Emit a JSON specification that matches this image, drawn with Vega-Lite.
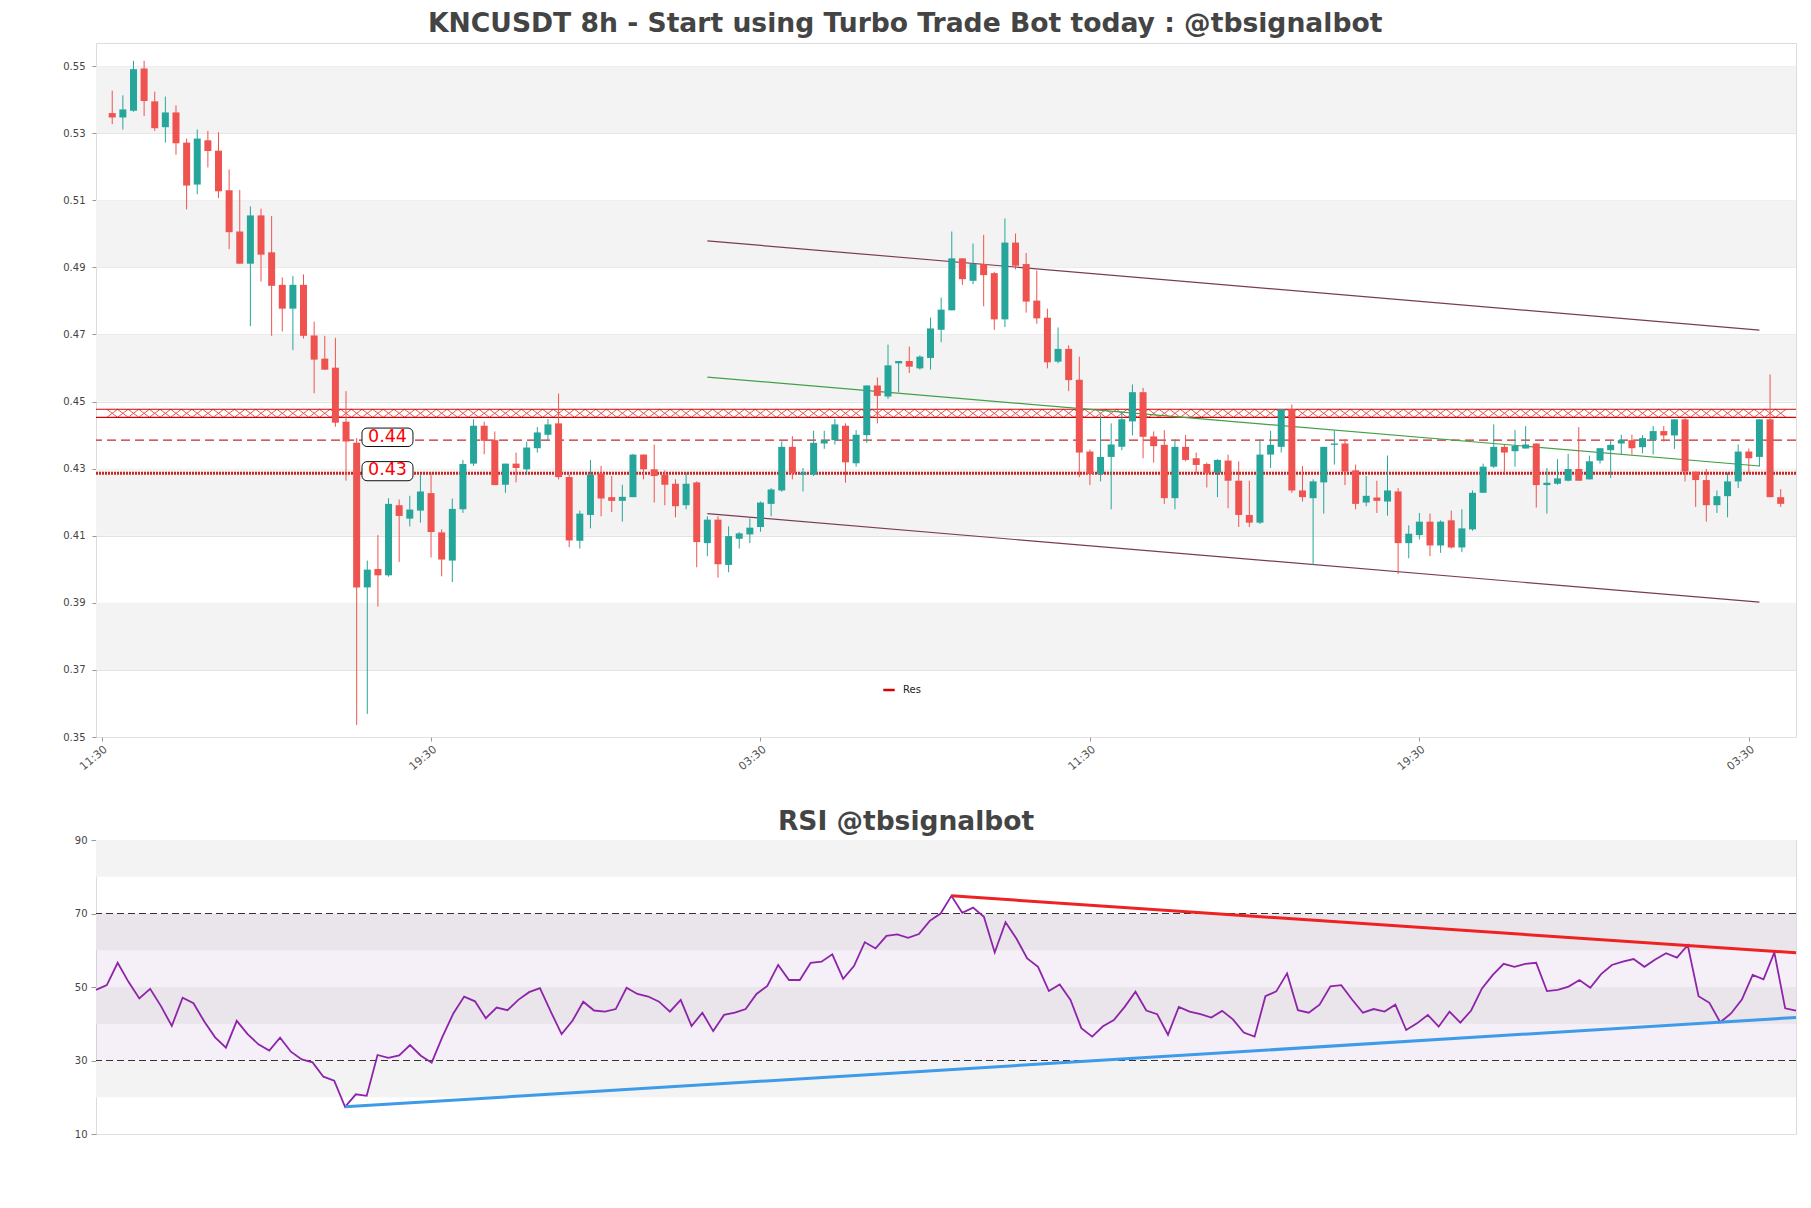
{
  "$schema": "https://vega.github.io/schema/vega-lite/v6.json",
  "background": "white",
  "padding": {"left": 62, "top": 10, "right": 7, "bottom": 5},
  "title": {"text": "KNCUSDT 8h - Start using Turbo Trade Bot today : @tbsignalbot", "fontSize": 26.6, "fontWeight": "bold", "color": "#444444", "anchor": "middle", "dx": -26, "offset": 5},
  "config": {
    "font": "DejaVu Sans",
    "view": {"stroke": "#dcdcdc", "strokeWidth": 1},
    "title": {"font": "DejaVu Sans"},
    "axis": {"labelFont": "DejaVu Sans"}
  },
  "spacing": 35,
  "datasets": {
    "candles": [
      {"i":0,"o":0.5360,"h":0.5427,"l":0.5327,"c":0.5347,"rsi":49.2},
      {"i":1,"o":0.5347,"h":0.5413,"l":0.5311,"c":0.5371,"rsi":50.5},
      {"i":2,"o":0.5367,"h":0.5516,"l":0.5364,"c":0.5491,"rsi":56.6},
      {"i":3,"o":0.5493,"h":0.5516,"l":0.5351,"c":0.5396,"rsi":51.4},
      {"i":4,"o":0.5395,"h":0.5424,"l":0.5307,"c":0.5315,"rsi":46.9},
      {"i":5,"o":0.5318,"h":0.5409,"l":0.5272,"c":0.5362,"rsi":49.5},
      {"i":6,"o":0.5362,"h":0.5383,"l":0.5236,"c":0.5270,"rsi":44.8},
      {"i":7,"o":0.5272,"h":0.5284,"l":0.5073,"c":0.5144,"rsi":39.4},
      {"i":8,"o":0.5147,"h":0.5311,"l":0.5118,"c":0.5284,"rsi":47.1},
      {"i":9,"o":0.5279,"h":0.5307,"l":0.5198,"c":0.5247,"rsi":45.6},
      {"i":10,"o":0.5248,"h":0.5303,"l":0.5107,"c":0.5127,"rsi":40.6},
      {"i":11,"o":0.5130,"h":0.5192,"l":0.4954,"c":0.5005,"rsi":36.3},
      {"i":12,"o":0.5007,"h":0.5131,"l":0.4911,"c":0.4911,"rsi":33.5},
      {"i":13,"o":0.4911,"h":0.5082,"l":0.4725,"c":0.5055,"rsi":40.8},
      {"i":14,"o":0.5055,"h":0.5075,"l":0.4858,"c":0.4938,"rsi":37.2},
      {"i":15,"o":0.4945,"h":0.5053,"l":0.4696,"c":0.4845,"rsi":34.4},
      {"i":16,"o":0.4848,"h":0.4870,"l":0.4709,"c":0.4777,"rsi":32.7},
      {"i":17,"o":0.4777,"h":0.4874,"l":0.4653,"c":0.4848,"rsi":36.2},
      {"i":18,"o":0.4848,"h":0.4879,"l":0.4688,"c":0.4696,"rsi":32.4},
      {"i":19,"o":0.4697,"h":0.4738,"l":0.4525,"c":0.4625,"rsi":30.3},
      {"i":20,"o":0.4628,"h":0.4696,"l":0.4595,"c":0.4595,"rsi":29.5},
      {"i":21,"o":0.4601,"h":0.4690,"l":0.4425,"c":0.4437,"rsi":25.6},
      {"i":22,"o":0.4440,"h":0.4531,"l":0.4264,"c":0.4381,"rsi":24.5},
      {"i":23,"o":0.4377,"h":0.4391,"l":0.3536,"c":0.3946,"rsi":17.4},
      {"i":24,"o":0.3946,"h":0.4026,"l":0.3569,"c":0.3999,"rsi":20.8},
      {"i":25,"o":0.4001,"h":0.4102,"l":0.3889,"c":0.3982,"rsi":20.4},
      {"i":26,"o":0.3982,"h":0.4212,"l":0.3978,"c":0.4195,"rsi":31.5},
      {"i":27,"o":0.4191,"h":0.4208,"l":0.4022,"c":0.4159,"rsi":30.7},
      {"i":28,"o":0.4151,"h":0.4219,"l":0.4128,"c":0.4178,"rsi":31.4},
      {"i":29,"o":0.4175,"h":0.4282,"l":0.4139,"c":0.4232,"rsi":34.2},
      {"i":30,"o":0.4227,"h":0.4288,"l":0.4035,"c":0.4111,"rsi":31.3},
      {"i":31,"o":0.4110,"h":0.4119,"l":0.3979,"c":0.4029,"rsi":29.4},
      {"i":32,"o":0.4026,"h":0.4211,"l":0.3962,"c":0.4180,"rsi":36.5},
      {"i":33,"o":0.4179,"h":0.4326,"l":0.4168,"c":0.4314,"rsi":42.8},
      {"i":34,"o":0.4315,"h":0.4447,"l":0.4308,"c":0.4428,"rsi":47.4},
      {"i":35,"o":0.4428,"h":0.4440,"l":0.4343,"c":0.4383,"rsi":46.1},
      {"i":36,"o":0.4385,"h":0.4411,"l":0.4251,"c":0.4251,"rsi":41.5},
      {"i":37,"o":0.4252,"h":0.4315,"l":0.4228,"c":0.4315,"rsi":44.4},
      {"i":38,"o":0.4315,"h":0.4348,"l":0.4259,"c":0.4302,"rsi":43.7},
      {"i":39,"o":0.4298,"h":0.4381,"l":0.4282,"c":0.4363,"rsi":46.5},
      {"i":40,"o":0.4361,"h":0.4424,"l":0.4348,"c":0.4408,"rsi":48.6},
      {"i":41,"o":0.4401,"h":0.4448,"l":0.4384,"c":0.4432,"rsi":49.7},
      {"i":42,"o":0.4435,"h":0.4524,"l":0.4268,"c":0.4275,"rsi":43.3},
      {"i":43,"o":0.4275,"h":0.4282,"l":0.4066,"c":0.4086,"rsi":37.2},
      {"i":44,"o":0.4085,"h":0.4175,"l":0.4062,"c":0.4166,"rsi":40.8},
      {"i":45,"o":0.4162,"h":0.4326,"l":0.4122,"c":0.4282,"rsi":46.0},
      {"i":46,"o":0.4286,"h":0.4308,"l":0.4158,"c":0.4211,"rsi":43.6},
      {"i":47,"o":0.4215,"h":0.4278,"l":0.4171,"c":0.4204,"rsi":43.3},
      {"i":48,"o":0.4204,"h":0.4252,"l":0.4142,"c":0.4216,"rsi":44.0},
      {"i":49,"o":0.4215,"h":0.4344,"l":0.4215,"c":0.4342,"rsi":49.8},
      {"i":50,"o":0.4342,"h":0.4342,"l":0.4268,"c":0.4298,"rsi":48.1},
      {"i":51,"o":0.4298,"h":0.4372,"l":0.4199,"c":0.4278,"rsi":47.4},
      {"i":52,"o":0.4282,"h":0.4295,"l":0.4191,"c":0.4252,"rsi":46.0},
      {"i":53,"o":0.4255,"h":0.4268,"l":0.4155,"c":0.4188,"rsi":43.3},
      {"i":54,"o":0.4191,"h":0.4288,"l":0.4179,"c":0.4255,"rsi":46.5},
      {"i":55,"o":0.4259,"h":0.4262,"l":0.4006,"c":0.4081,"rsi":39.4},
      {"i":56,"o":0.4078,"h":0.4158,"l":0.4039,"c":0.4148,"rsi":43.0},
      {"i":57,"o":0.4148,"h":0.4158,"l":0.3975,"c":0.4015,"rsi":38.0},
      {"i":58,"o":0.4013,"h":0.4128,"l":0.3991,"c":0.4099,"rsi":42.4},
      {"i":59,"o":0.4091,"h":0.4111,"l":0.4062,"c":0.4107,"rsi":43.0},
      {"i":60,"o":0.4104,"h":0.4152,"l":0.4078,"c":0.4124,"rsi":44.0},
      {"i":61,"o":0.4126,"h":0.4202,"l":0.4112,"c":0.4199,"rsi":48.1},
      {"i":62,"o":0.4195,"h":0.4242,"l":0.4158,"c":0.4238,"rsi":50.3},
      {"i":63,"o":0.4235,"h":0.4381,"l":0.4231,"c":0.4365,"rsi":56.0},
      {"i":64,"o":0.4365,"h":0.4397,"l":0.4268,"c":0.4286,"rsi":51.9},
      {"i":65,"o":0.4282,"h":0.4302,"l":0.4232,"c":0.4288,"rsi":51.9},
      {"i":66,"o":0.4282,"h":0.4413,"l":0.4278,"c":0.4377,"rsi":56.6},
      {"i":67,"o":0.4375,"h":0.4413,"l":0.4359,"c":0.4385,"rsi":56.9},
      {"i":68,"o":0.4385,"h":0.4448,"l":0.4372,"c":0.4432,"rsi":58.9},
      {"i":69,"o":0.4428,"h":0.4435,"l":0.4258,"c":0.4319,"rsi":52.2},
      {"i":70,"o":0.4316,"h":0.4415,"l":0.4306,"c":0.4401,"rsi":55.7},
      {"i":71,"o":0.4400,"h":0.4548,"l":0.4377,"c":0.4548,"rsi":62.2},
      {"i":72,"o":0.4548,"h":0.4572,"l":0.4435,"c":0.4517,"rsi":60.5},
      {"i":73,"o":0.4515,"h":0.4670,"l":0.4508,"c":0.4608,"rsi":63.9},
      {"i":74,"o":0.4614,"h":0.4621,"l":0.4528,"c":0.4621,"rsi":64.3},
      {"i":75,"o":0.4621,"h":0.4664,"l":0.4585,"c":0.4604,"rsi":63.4},
      {"i":76,"o":0.4599,"h":0.4638,"l":0.4595,"c":0.4634,"rsi":64.4},
      {"i":77,"o":0.4630,"h":0.4750,"l":0.4595,"c":0.4718,"rsi":68.0},
      {"i":78,"o":0.4714,"h":0.4810,"l":0.4677,"c":0.4774,"rsi":70.0},
      {"i":79,"o":0.4772,"h":0.5007,"l":0.4772,"c":0.4927,"rsi":74.8},
      {"i":80,"o":0.4927,"h":0.4927,"l":0.4848,"c":0.4865,"rsi":70.2},
      {"i":81,"o":0.4860,"h":0.4971,"l":0.4850,"c":0.4910,"rsi":71.6},
      {"i":82,"o":0.4910,"h":0.4997,"l":0.4784,"c":0.4877,"rsi":69.1},
      {"i":83,"o":0.4883,"h":0.4887,"l":0.4714,"c":0.4745,"rsi":59.4},
      {"i":84,"o":0.4745,"h":0.5046,"l":0.4722,"c":0.4974,"rsi":67.6},
      {"i":85,"o":0.4974,"h":0.5001,"l":0.4894,"c":0.4905,"rsi":63.2},
      {"i":86,"o":0.4910,"h":0.4943,"l":0.4765,"c":0.4798,"rsi":57.8},
      {"i":87,"o":0.4801,"h":0.4891,"l":0.4732,"c":0.4748,"rsi":55.5},
      {"i":88,"o":0.4750,"h":0.4777,"l":0.4599,"c":0.4617,"rsi":48.9},
      {"i":89,"o":0.4619,"h":0.4721,"l":0.4614,"c":0.4657,"rsi":50.7},
      {"i":90,"o":0.4657,"h":0.4668,"l":0.4531,"c":0.4564,"rsi":46.5},
      {"i":91,"o":0.4565,"h":0.4634,"l":0.4275,"c":0.4348,"rsi":38.8},
      {"i":92,"o":0.4351,"h":0.4357,"l":0.4251,"c":0.4284,"rsi":36.5},
      {"i":93,"o":0.4284,"h":0.4461,"l":0.4262,"c":0.4335,"rsi":39.3},
      {"i":94,"o":0.4335,"h":0.4435,"l":0.4179,"c":0.4372,"rsi":41.0},
      {"i":95,"o":0.4365,"h":0.4471,"l":0.4355,"c":0.4447,"rsi":44.6},
      {"i":96,"o":0.4441,"h":0.4551,"l":0.4399,"c":0.4528,"rsi":48.7},
      {"i":97,"o":0.4528,"h":0.4541,"l":0.4331,"c":0.4395,"rsi":43.6},
      {"i":98,"o":0.4396,"h":0.4411,"l":0.4318,"c":0.4367,"rsi":42.6},
      {"i":99,"o":0.4371,"h":0.4415,"l":0.4195,"c":0.4212,"rsi":37.0},
      {"i":100,"o":0.4212,"h":0.4388,"l":0.4179,"c":0.4365,"rsi":44.6},
      {"i":101,"o":0.4365,"h":0.4400,"l":0.4322,"c":0.4326,"rsi":43.3},
      {"i":102,"o":0.4331,"h":0.4348,"l":0.4286,"c":0.4311,"rsi":42.6},
      {"i":103,"o":0.4314,"h":0.4318,"l":0.4244,"c":0.4286,"rsi":41.7},
      {"i":104,"o":0.4288,"h":0.4328,"l":0.4215,"c":0.4326,"rsi":43.5},
      {"i":105,"o":0.4324,"h":0.4342,"l":0.4182,"c":0.4264,"rsi":41.2},
      {"i":106,"o":0.4264,"h":0.4322,"l":0.4126,"c":0.4162,"rsi":37.6},
      {"i":107,"o":0.4162,"h":0.4264,"l":0.4126,"c":0.4139,"rsi":36.5},
      {"i":108,"o":0.4139,"h":0.4388,"l":0.4135,"c":0.4342,"rsi":47.5},
      {"i":109,"o":0.4342,"h":0.4413,"l":0.4302,"c":0.4371,"rsi":48.8},
      {"i":110,"o":0.4365,"h":0.4477,"l":0.4348,"c":0.4477,"rsi":53.7},
      {"i":111,"o":0.4477,"h":0.4491,"l":0.4228,"c":0.4235,"rsi":43.7},
      {"i":112,"o":0.4235,"h":0.4308,"l":0.4202,"c":0.4215,"rsi":43.0},
      {"i":113,"o":0.4212,"h":0.4268,"l":0.4013,"c":0.4262,"rsi":45.2},
      {"i":114,"o":0.4259,"h":0.4365,"l":0.4166,"c":0.4365,"rsi":50.2},
      {"i":115,"o":0.4371,"h":0.4413,"l":0.4312,"c":0.4375,"rsi":50.5},
      {"i":116,"o":0.4375,"h":0.4388,"l":0.4251,"c":0.4291,"rsi":46.6},
      {"i":117,"o":0.4295,"h":0.4312,"l":0.4179,"c":0.4195,"rsi":43.0},
      {"i":118,"o":0.4199,"h":0.4278,"l":0.4188,"c":0.4219,"rsi":44.0},
      {"i":119,"o":0.4214,"h":0.4264,"l":0.4168,"c":0.4204,"rsi":43.3},
      {"i":120,"o":0.4202,"h":0.4339,"l":0.4160,"c":0.4235,"rsi":45.2},
      {"i":121,"o":0.4232,"h":0.4242,"l":0.3986,"c":0.4078,"rsi":38.3},
      {"i":122,"o":0.4078,"h":0.4131,"l":0.4033,"c":0.4106,"rsi":40.1},
      {"i":123,"o":0.4102,"h":0.4168,"l":0.4089,"c":0.4142,"rsi":42.4},
      {"i":124,"o":0.4142,"h":0.4166,"l":0.4039,"c":0.4071,"rsi":39.2},
      {"i":125,"o":0.4071,"h":0.4146,"l":0.4049,"c":0.4142,"rsi":43.3},
      {"i":126,"o":0.4146,"h":0.4175,"l":0.4062,"c":0.4065,"rsi":40.3},
      {"i":127,"o":0.4065,"h":0.4179,"l":0.4051,"c":0.4122,"rsi":43.6},
      {"i":128,"o":0.4119,"h":0.4235,"l":0.4115,"c":0.4228,"rsi":49.6},
      {"i":129,"o":0.4228,"h":0.4315,"l":0.4228,"c":0.4306,"rsi":53.3},
      {"i":130,"o":0.4306,"h":0.4432,"l":0.4302,"c":0.4365,"rsi":56.3},
      {"i":131,"o":0.4365,"h":0.4371,"l":0.4286,"c":0.4348,"rsi":55.5},
      {"i":132,"o":0.4352,"h":0.4415,"l":0.4306,"c":0.4368,"rsi":56.3},
      {"i":133,"o":0.4360,"h":0.4427,"l":0.4360,"c":0.4372,"rsi":56.6},
      {"i":134,"o":0.4375,"h":0.4375,"l":0.4184,"c":0.4251,"rsi":48.9},
      {"i":135,"o":0.4251,"h":0.4302,"l":0.4166,"c":0.4258,"rsi":49.2},
      {"i":136,"o":0.4255,"h":0.4328,"l":0.4252,"c":0.4271,"rsi":50.1},
      {"i":137,"o":0.4264,"h":0.4344,"l":0.4262,"c":0.4299,"rsi":51.9},
      {"i":138,"o":0.4299,"h":0.4424,"l":0.4264,"c":0.4264,"rsi":49.8},
      {"i":139,"o":0.4268,"h":0.4339,"l":0.4268,"c":0.4322,"rsi":53.5},
      {"i":140,"o":0.4324,"h":0.4361,"l":0.4315,"c":0.4361,"rsi":56.0},
      {"i":141,"o":0.4355,"h":0.4384,"l":0.4272,"c":0.4371,"rsi":56.9},
      {"i":142,"o":0.4375,"h":0.4401,"l":0.4342,"c":0.4385,"rsi":57.6},
      {"i":143,"o":0.4385,"h":0.4401,"l":0.4342,"c":0.4361,"rsi":55.5},
      {"i":144,"o":0.4364,"h":0.4400,"l":0.4346,"c":0.4391,"rsi":57.5},
      {"i":145,"o":0.4385,"h":0.4427,"l":0.4342,"c":0.4412,"rsi":59.2},
      {"i":146,"o":0.4412,"h":0.4427,"l":0.4381,"c":0.4399,"rsi":58.0},
      {"i":147,"o":0.4399,"h":0.4447,"l":0.4359,"c":0.4447,"rsi":61.4},
      {"i":148,"o":0.4447,"h":0.4451,"l":0.4262,"c":0.4291,"rsi":47.5},
      {"i":149,"o":0.4291,"h":0.4291,"l":0.4186,"c":0.4266,"rsi":45.7},
      {"i":150,"o":0.4266,"h":0.4299,"l":0.4142,"c":0.4191,"rsi":40.4},
      {"i":151,"o":0.4191,"h":0.4235,"l":0.4168,"c":0.4218,"rsi":42.8},
      {"i":152,"o":0.4218,"h":0.4288,"l":0.4155,"c":0.4262,"rsi":46.6},
      {"i":153,"o":0.4262,"h":0.4372,"l":0.4242,"c":0.4351,"rsi":53.3},
      {"i":154,"o":0.4351,"h":0.4360,"l":0.4286,"c":0.4331,"rsi":52.1},
      {"i":155,"o":0.4335,"h":0.4447,"l":0.4306,"c":0.4447,"rsi":59.4},
      {"i":156,"o":0.4447,"h":0.4581,"l":0.4215,"c":0.4215,"rsi":44.2},
      {"i":157,"o":0.4215,"h":0.4239,"l":0.4186,"c":0.4195,"rsi":43.6}
    ],
    "priceBands": [
      {"lo":0.53,"hi":0.55},{"lo":0.49,"hi":0.51},{"lo":0.45,"hi":0.47},{"lo":0.41,"hi":0.43},{"lo":0.37,"hi":0.39}
    ],
    "trend": [
      {"name":"upper","x":56,"y":0.4979,"x2":155,"y2":0.4713},
      {"name":"lower","x":56,"y":0.4166,"x2":155,"y2":0.3902},
      {"name":"mid","x":56,"y":0.4573,"x2":155,"y2":0.4308}
    ],
    "zone": [
      {"edge":"top","p":0.4477},{"edge":"bottom","p":0.4453}
    ],
    "levels": [
      {"label":"0.44","price":0.4385,"kind":"dashed"},
      {"label":"0.43","price":0.4286,"kind":"dotted"}
    ],
    "rsiBands": [
      {"lo":80,"hi":90},{"lo":60,"hi":70},{"lo":40,"hi":50},{"lo":20,"hi":30}
    ],
    "rsiLevels": [{"v":70},{"v":30}],
    "rsiTrend": [
      {"name":"res","x":79,"y":74.8,"x2":157,"y2":59.3},
      {"name":"sup","x":23,"y":17.4,"x2":157,"y2":41.7}
    ]
  },
  "vconcat": [
    {
      "width": 1700,
      "height": 694,
      "layer": [
        {
          "data": {"name": "priceBands"},
          "mark": {"type": "rect", "fill": "#f3f3f3"},
          "encoding": {
            "y": {"field": "lo", "type": "quantitative", "title": null,
              "scale": {"domain": [0.35, 0.5569], "nice": false, "zero": false},
              "axis": {"values": [0.35,0.37,0.39,0.41,0.43,0.45,0.47,0.49,0.51,0.53,0.55], "format": ".2f", "labelFontSize": 10, "labelColor": "#444444", "tickSize": 4, "tickColor": "#999999", "domain": false, "grid": true, "gridColor": "#e3e3e3", "labelPadding": 7}},
            "y2": {"field": "hi"}
          }
        },
        {
          "data": {"name": "candles"},
          "mark": {"type": "point", "shape": "M -1 -0.75 L 1 0.75 M -1 0.75 L 1 -0.75", "size": 112, "filled": false, "stroke": "#e53935", "strokeWidth": 1, "opacity": 0.85},
          "encoding": {
            "x": {"field": "i", "type": "quantitative", "title": null},
            "y": {"datum": 0.4465, "type": "quantitative"}
          }
        },
        {
          "data": {"name": "zone"},
          "mark": {"type": "rule", "strokeWidth": 1.1},
          "encoding": {
            "y": {"field": "p", "type": "quantitative", "title": null},
            "color": {"datum": "Res", "type": "nominal", "scale": {"range": ["#d50000"]},
              "legend": {"orient": "none", "legendX": 786, "legendY": 640, "title": null, "symbolType": "stroke", "symbolStrokeWidth": 2.5, "symbolSize": 130, "labelFontSize": 10, "labelColor": "#222222", "labelFont": "DejaVu Sans", "labelOffset": 7}}
          }
        },
        {
          "data": {"name": "levels"},
          "mark": {"type": "rule", "stroke": "#c62828"},
          "encoding": {
            "y": {"field": "price", "type": "quantitative", "title": null},
            "strokeDash": {"field": "kind", "type": "nominal", "scale": {"domain": ["dashed", "dotted"], "range": [[9, 5], [2, 1]]}, "legend": null},
            "strokeWidth": {"field": "kind", "type": "nominal", "scale": {"domain": ["dashed", "dotted"], "range": [1.2, 3]}, "legend": null}
          }
        },
        {
          "data": {"name": "trend"},
          "mark": {"type": "rule", "strokeWidth": 1.2},
          "encoding": {
            "x": {"field": "x", "type": "quantitative", "title": null},
            "y": {"field": "y", "type": "quantitative", "title": null},
            "x2": {"field": "x2"},
            "y2": {"field": "y2"},
            "stroke": {"condition": {"test": "datum.name === 'mid'", "value": "#43a047"}, "value": "#7b3b58"}
          }
        },
        {
          "data": {"name": "candles"},
          "mark": {"type": "rule", "strokeWidth": 1},
          "encoding": {
            "x": {"field": "i", "type": "quantitative", "title": null,
              "scale": {"domain": [-1.057, 157.97], "nice": false, "zero": false},
              "axis": {"values": [-1, 30, 61, 92, 123, 154], "labelExpr": "['11:30','19:30','03:30'][round((datum.value+1)/31)%3]", "labelAngle": -40, "labelFontSize": 11, "labelColor": "#555555", "tickSize": 4, "tickColor": "#999999", "domain": false, "grid": false, "labelPadding": 2, "labelOverlap": false, "labelBound": false}},
            "y": {"field": "l", "type": "quantitative", "title": null},
            "y2": {"field": "h"},
            "stroke": {"condition": {"test": "datum.c >= datum.o", "value": "#26a69a"}, "value": "#ef5350"}
          }
        },
        {
          "data": {"name": "candles"},
          "mark": {"type": "bar", "size": 7},
          "encoding": {
            "x": {"field": "i", "type": "quantitative", "title": null},
            "y": {"field": "o", "type": "quantitative", "title": null},
            "y2": {"field": "c"},
            "fill": {"condition": {"test": "datum.c >= datum.o", "value": "#26a69a"}, "value": "#ef5350"}
          }
        },
        {
          "data": {"name": "levels"},
          "mark": {"type": "rect", "fill": "white", "stroke": "#111111", "strokeWidth": 1, "cornerRadius": 5},
          "transform": [{"filter": "datum.label === '0.44'"}],
          "encoding": {"x": {"datum": 23.5, "type": "quantitative"}, "x2": {"datum": 28.3}, "y": {"datum": 0.4421, "type": "quantitative"}, "y2": {"datum": 0.4366}}
        },
        {
          "data": {"name": "levels"},
          "mark": {"type": "rect", "fill": "white", "stroke": "#111111", "strokeWidth": 1, "cornerRadius": 5},
          "transform": [{"filter": "datum.label === '0.43'"}],
          "encoding": {"x": {"datum": 23.5, "type": "quantitative"}, "x2": {"datum": 28.3}, "y": {"datum": 0.4321, "type": "quantitative"}, "y2": {"datum": 0.4264}}
        },
        {
          "data": {"name": "levels"},
          "mark": {"type": "text", "color": "#ff0000", "fontSize": 17.5, "align": "center", "baseline": "middle", "dy": -3, "font": "DejaVu Sans"},
          "encoding": {
            "x": {"datum": 25.9, "type": "quantitative"},
            "y": {"field": "price", "type": "quantitative", "title": null},
            "text": {"field": "label"}
          }
        }
      ]
    },
    {
      "width": 1700,
      "height": 294,
      "title": {"text": "RSI @tbsignalbot", "fontSize": 26.5, "fontWeight": "bold", "color": "#444444", "dx": -40, "offset": 0},
      "layer": [
        {
          "data": {"name": "rsiBands"},
          "mark": {"type": "rect", "fill": "#f3f3f3"},
          "encoding": {
            "y": {"field": "lo", "type": "quantitative", "title": null,
              "scale": {"domain": [10, 90], "nice": false, "zero": false},
              "axis": {"values": [10,15,20,25,30,35,40,45,50,55,60,65,70,75,80,85,90], "labelExpr": "datum.value % 10 === 0 ? datum.label : ''", "labelOverlap": false, "labelBound": false, "labelFontSize": 10, "labelColor": "#444444", "tickColor": "#999999", "tickSize": {"condition": {"test": "datum.value % 10 === 0", "value": 5}, "value": 3}, "domain": false, "grid": true, "gridColor": "#e0e0e0", "gridOpacity": {"condition": {"test": "datum.value % 10 === 0", "value": 1}, "value": 0}, "labelPadding": 4}},
            "y2": {"field": "hi"}
          }
        },
        {
          "data": {"name": "rsiLevels"},
          "mark": {"type": "rect", "fill": "#b07cc0", "opacity": 0.06},
          "encoding": {"y": {"datum": 70, "type": "quantitative"}, "y2": {"datum": 30}}
        },
        {
          "data": {"name": "rsiLevels"},
          "mark": {"type": "rule", "stroke": "#333333", "strokeWidth": 1.2, "strokeDash": [7, 4]},
          "encoding": {"y": {"field": "v", "type": "quantitative", "title": null}}
        },
        {
          "data": {"name": "candles"},
          "mark": {"type": "line", "stroke": "#8e24aa", "strokeWidth": 1.8},
          "encoding": {
            "x": {"field": "i", "type": "quantitative", "title": null, "scale": {"domain": [0, 157], "nice": false, "zero": false}, "axis": null},
            "y": {"field": "rsi", "type": "quantitative", "title": null}
          }
        },
        {
          "data": {"name": "rsiTrend"},
          "mark": {"type": "rule", "strokeWidth": 3},
          "encoding": {
            "x": {"field": "x", "type": "quantitative", "title": null},
            "y": {"field": "y", "type": "quantitative", "title": null},
            "x2": {"field": "x2"},
            "y2": {"field": "y2"},
            "stroke": {"condition": {"test": "datum.name === 'res'", "value": "#ee2222"}, "value": "#3d9be9"}
          }
        }
      ]
    }
  ]
}
